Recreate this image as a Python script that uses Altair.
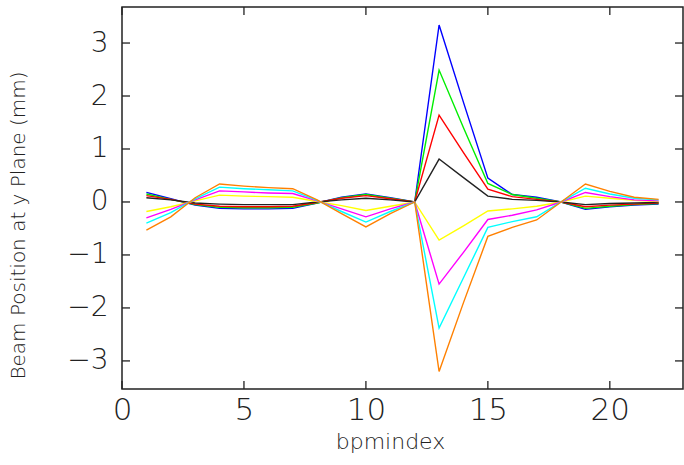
import altair as alt
import pandas as pd

# ---- data ----
bpm = list(range(1, 23))
series_names = ["s1", "s2", "s3", "s4", "s5", "s6", "s7", "s8"]
series_colors = ["#0000ff", "#00ee00", "#ff0000", "#222222",
                 "#ffff00", "#ff00ff", "#00ffff", "#ff8000"]

s1 = [0.18, 0.06, -0.06, -0.12, -0.13, -0.13, -0.12, -0.02, 0.09, 0.15, 0.08, 0.0,
      3.34, 1.88, 0.45, 0.14, 0.09, 0.0, -0.14, -0.09, -0.06, -0.04]
s2 = [0.15, 0.05, -0.05, -0.10, -0.11, -0.11, -0.10, -0.02, 0.08, 0.14, 0.07, 0.0,
      2.49, 1.40, 0.35, 0.14, 0.07, 0.0, -0.12, -0.08, -0.05, -0.03]
s3 = [0.12, 0.05, -0.04, -0.08, -0.09, -0.09, -0.08, -0.01, 0.07, 0.12, 0.06, 0.0,
      1.64, 0.93, 0.24, 0.10, 0.05, 0.0, -0.09, -0.06, -0.04, -0.02]
s4 = [0.08, 0.04, -0.02, -0.04, -0.05, -0.05, -0.05, 0.0, 0.04, 0.07, 0.04, 0.0,
      0.81, 0.46, 0.11, 0.05, 0.03, 0.0, -0.05, -0.03, -0.02, -0.01]
s5 = [-0.18, -0.09, 0.02, 0.13, 0.11, 0.10, 0.09, 0.01, -0.07, -0.16, -0.08, 0.0,
      -0.72, -0.45, -0.17, -0.13, -0.08, 0.0, 0.11, 0.07, 0.03, 0.01]
s6 = [-0.30, -0.14, 0.04, 0.21, 0.19, 0.17, 0.16, 0.02, -0.13, -0.28, -0.13, 0.0,
      -1.55, -0.95, -0.33, -0.25, -0.15, 0.0, 0.18, 0.10, 0.04, 0.02]
s7 = [-0.40, -0.20, 0.06, 0.28, 0.25, 0.23, 0.21, 0.03, -0.18, -0.38, -0.18, 0.0,
      -2.38, -1.43, -0.48, -0.37, -0.28, 0.0, 0.26, 0.15, 0.07, 0.04]
s8 = [-0.53, -0.28, 0.08, 0.34, 0.30, 0.27, 0.25, 0.04, -0.22, -0.47, -0.22, 0.0,
      -3.20, -1.90, -0.65, -0.48, -0.34, 0.0, 0.34, 0.20, 0.09, 0.05]

x_ticks = [0, 5, 10, 15, 20]
y_ticks = [-3, -2, -1, 0, 1, 2, 3]
x_domain = [0, 23]
y_domain = [-3.53, 3.68]

W, H = 561, 382
TICK = 8
FONT = "DejaVu Sans"
INK = "#222222"

rows = []
for name, vals in zip(series_names, [s1, s2, s3, s4, s5, s6, s7, s8]):
    for xi, v in zip(bpm, vals):
        rows.append({"bpm": xi, "pos": v, "series": name})
df = pd.DataFrame(rows)

xs = alt.Scale(domain=x_domain, nice=False, zero=False)
ys = alt.Scale(domain=y_domain, nice=False, zero=False)

lines = alt.Chart(df).mark_line(strokeWidth=1.4, clip=True).encode(
    x=alt.X("bpm:Q", scale=xs,
            axis=alt.Axis(values=x_ticks, title="bpmindex", domain=False, ticks=False,
                          grid=False, labelFont=FONT, labelFontSize=31, labelFontWeight=200,
                          labelColor=INK, labelPadding=6, labelFlush=False,
                          titleFont=FONT, titleFontSize=22, titleFontWeight=200,
                          titleColor=INK, titleX=268, titleY=52, titleBaseline="middle")),
    y=alt.Y("pos:Q", scale=ys,
            axis=alt.Axis(values=y_ticks, title="Beam Position at y Plane (mm)",
                          domain=False, ticks=False, grid=False, labelFont=FONT,
                          labelFontSize=28, labelFontWeight=200, labelColor=INK,
                          labelPadding=14, titleFont=FONT, titleFontSize=20,
                          titleFontWeight=200, titleColor=INK, titleAngle=270,
                          titleX=-104, titleY=218, titleAlign="center",
                          titleBaseline="middle")),
    color=alt.Color("series:N", scale=alt.Scale(domain=series_names, range=series_colors),
                    legend=None),
    order=alt.Order("bpm:Q"),
    detail="series:N",
)

xt = pd.DataFrame({"t": x_ticks})
yt = pd.DataFrame({"t": y_ticks})

xtick_bottom = alt.Chart(xt).mark_rule(color=INK, strokeWidth=1.3).encode(
    x=alt.X("t:Q", scale=xs), y=alt.value(H), y2=alt.value(H - TICK))
xtick_top = alt.Chart(xt).mark_rule(color=INK, strokeWidth=1.3).encode(
    x=alt.X("t:Q", scale=xs), y=alt.value(0), y2=alt.value(TICK))
ytick_left = alt.Chart(yt).mark_rule(color=INK, strokeWidth=1.3).encode(
    y=alt.Y("t:Q", scale=ys), x=alt.value(0), x2=alt.value(TICK))
ytick_right = alt.Chart(yt).mark_rule(color=INK, strokeWidth=1.3).encode(
    y=alt.Y("t:Q", scale=ys), x=alt.value(W), x2=alt.value(W - TICK))

chart = alt.layer(lines, xtick_bottom, xtick_top, ytick_left, ytick_right).properties(
    width=W, height=H,
    autosize=alt.AutoSizeParams(type="none"),
    padding={"left": 122, "top": 7, "right": 1, "bottom": 76},
    background="white",
).configure_view(stroke=INK, strokeWidth=1.5)

chart.save("out.html", embed_options={"renderer": "svg", "actions": False})
